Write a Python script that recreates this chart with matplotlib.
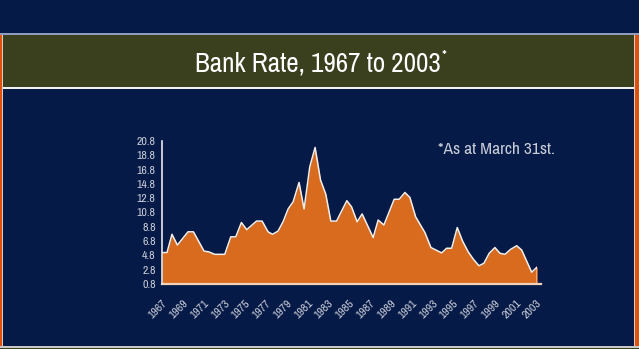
import matplotlib.pyplot as plt
from matplotlib import font_manager
from matplotlib.font_manager import FontProperties
from matplotlib.patches import Rectangle

# Bank rate (decimal year, percent)
years = [1967.0, 1967.48, 1967.96, 1968.48, 1969.5, 1970.02, 1971.04, 1971.49,
         1972.07, 1973.03, 1973.61, 1974.09, 1974.63, 1975.14, 1976.08, 1976.62,
         1977.19, 1977.62, 1978.15, 1978.63, 1979.12, 1979.6, 1980.17, 1980.65,
         1981.2, 1981.71, 1982.23, 1982.74, 1983.22, 1983.77, 1984.76, 1985.21,
         1985.75, 1986.23, 1987.29, 1987.77, 1988.32, 1989.31, 1989.79, 1990.34,
         1990.82, 1991.37, 1992.26, 1992.84, 1993.87, 1994.35, 1994.83, 1995.37,
         1995.88, 1996.42, 1996.9, 1997.45, 1997.93, 1998.44, 1998.99, 1999.47,
         1999.95, 2000.5, 2001.08, 2001.56, 2002.52, 2003.06]
rates = [5.2, 5.2, 7.75, 6.25, 8.1, 8.1, 5.4, 5.3,
         4.95, 4.95, 7.4, 7.4, 9.4, 8.4, 9.6, 9.6,
         8.1, 7.75, 8.2, 9.5, 11.3, 12.3, 15.0, 11.3,
         17.2, 19.9, 15.35, 13.35, 9.6, 9.6, 12.45, 11.6,
         9.5, 10.6, 7.3, 9.75, 9.05, 12.65, 12.65, 13.6,
         12.9, 10.2, 8.0, 5.9, 5.15, 5.8, 5.8, 8.7,
         6.8, 5.3, 4.3, 3.35, 3.7, 5.1, 5.9, 5.1,
         4.95, 5.65, 6.15, 5.55, 2.45, 3.2]
tick_years = list(range(1967, 2004, 2))
y_ticks = [0.8 + 2 * i for i in range(11)]

NAVY = '#061a47'
OLIVE = '#3a3f1e'
ORANGE = '#d96b1e'
EDGE = '#e0500f'
GREY = '#c9cdd8'


# look for a narrow sans font, the original uses a condensed Helvetica
def narrow_font():
    fonts = font_manager.fontManager.ttflist
    for f in fonts:
        if 'Narrow' in f.name and f.weight in (400, 'normal') and f.style == 'normal':
            return f.fname
    for f in fonts:
        if f.name == 'DejaVu Sans' and 'Condensed' in f.fname and f.style == 'normal' \
                and f.weight in (400, 'normal') and 'Bold' not in f.fname:
            return f.fname
    return None


path = narrow_font()


def fp(size):
    if path:
        return FontProperties(fname=path, size=size)
    return FontProperties(family='DejaVu Sans', stretch='condensed', size=size)


W, H = 639, 349
fig = plt.figure(figsize=(W / 100, H / 100), dpi=100, facecolor=NAVY)


def box(x0, y0, x1, y1, color):
    # pixel box, y measured from the top
    fig.add_artist(Rectangle((x0 / W, 1 - y1 / H), (x1 - x0) / W, (y1 - y0) / H,
                             transform=fig.transFigure, color=color, lw=0))


# frame around the panel
box(0, 33, W, 35, '#8f9cc0')
box(0, 35, 2, 347, EDGE)
box(2, 35, 3, 347, '#d8d0c8')
box(634, 35, 635, 347, '#d8d0c8')
box(635, 35, W, 347, EDGE)
box(0, 346, W, 347.5, '#c8c8c8')
box(0, 347.5, W, H, OLIVE)

# title band
box(3, 35, 634, 87, OLIVE)
box(3, 87, 634, 88.5, '#f0f0f0')
fig.text(441 / W, 1 - 64 / H, 'Bank Rate, 1967 to 2003', color='white',
         fontproperties=fp(19.5), ha='right', va='center')
fig.text(442 / W, 1 - 56 / H, '*', color='white', fontproperties=fp(11),
         ha='left', va='center')

# chart
ax = fig.add_axes([162 / W, 1 - 284 / H, (537.3 - 162) / W, (284 - 141) / H])
ax.set_facecolor(NAVY)
ax.fill_between(years, rates, 0.8, color=ORANGE, lw=0)
ax.plot(years + [years[-1]], rates + [0.8], color='#f4efe8', lw=1.1)
ax.plot([1967, 2003.45], [0.8, 0.8], color='#f2d2b8', lw=1.6, clip_on=False)

ax.set_xlim(1967, 2003.06)
ax.set_ylim(0.8, 20.8)
ax.set_yticks(y_ticks)
ax.set_yticklabels([f'{v:.1f}' for v in y_ticks], color=GREY)
ax.set_xticks(tick_years)
ax.set_xticklabels([str(y) for y in tick_years], rotation=45, ha='right',
                   rotation_mode='anchor', color=GREY)
for lab in ax.get_xticklabels() + ax.get_yticklabels():
    lab.set_fontproperties(fp(8.5))
ax.tick_params(axis='both', length=0)
ax.tick_params(axis='y', pad=4.5)
ax.tick_params(axis='x', pad=10)
for side in ['top', 'right', 'bottom']:
    ax.spines[side].set_visible(False)
ax.spines['left'].set_color('#e8e8ee')
ax.spines['left'].set_linewidth(1.2)

ax.text(2004.75, 19.6, '*As at March 31st.', color=GREY, fontproperties=fp(12.5),
        ha='right', va='center', clip_on=False)

fig.savefig('out.png', dpi=100, facecolor=NAVY)
